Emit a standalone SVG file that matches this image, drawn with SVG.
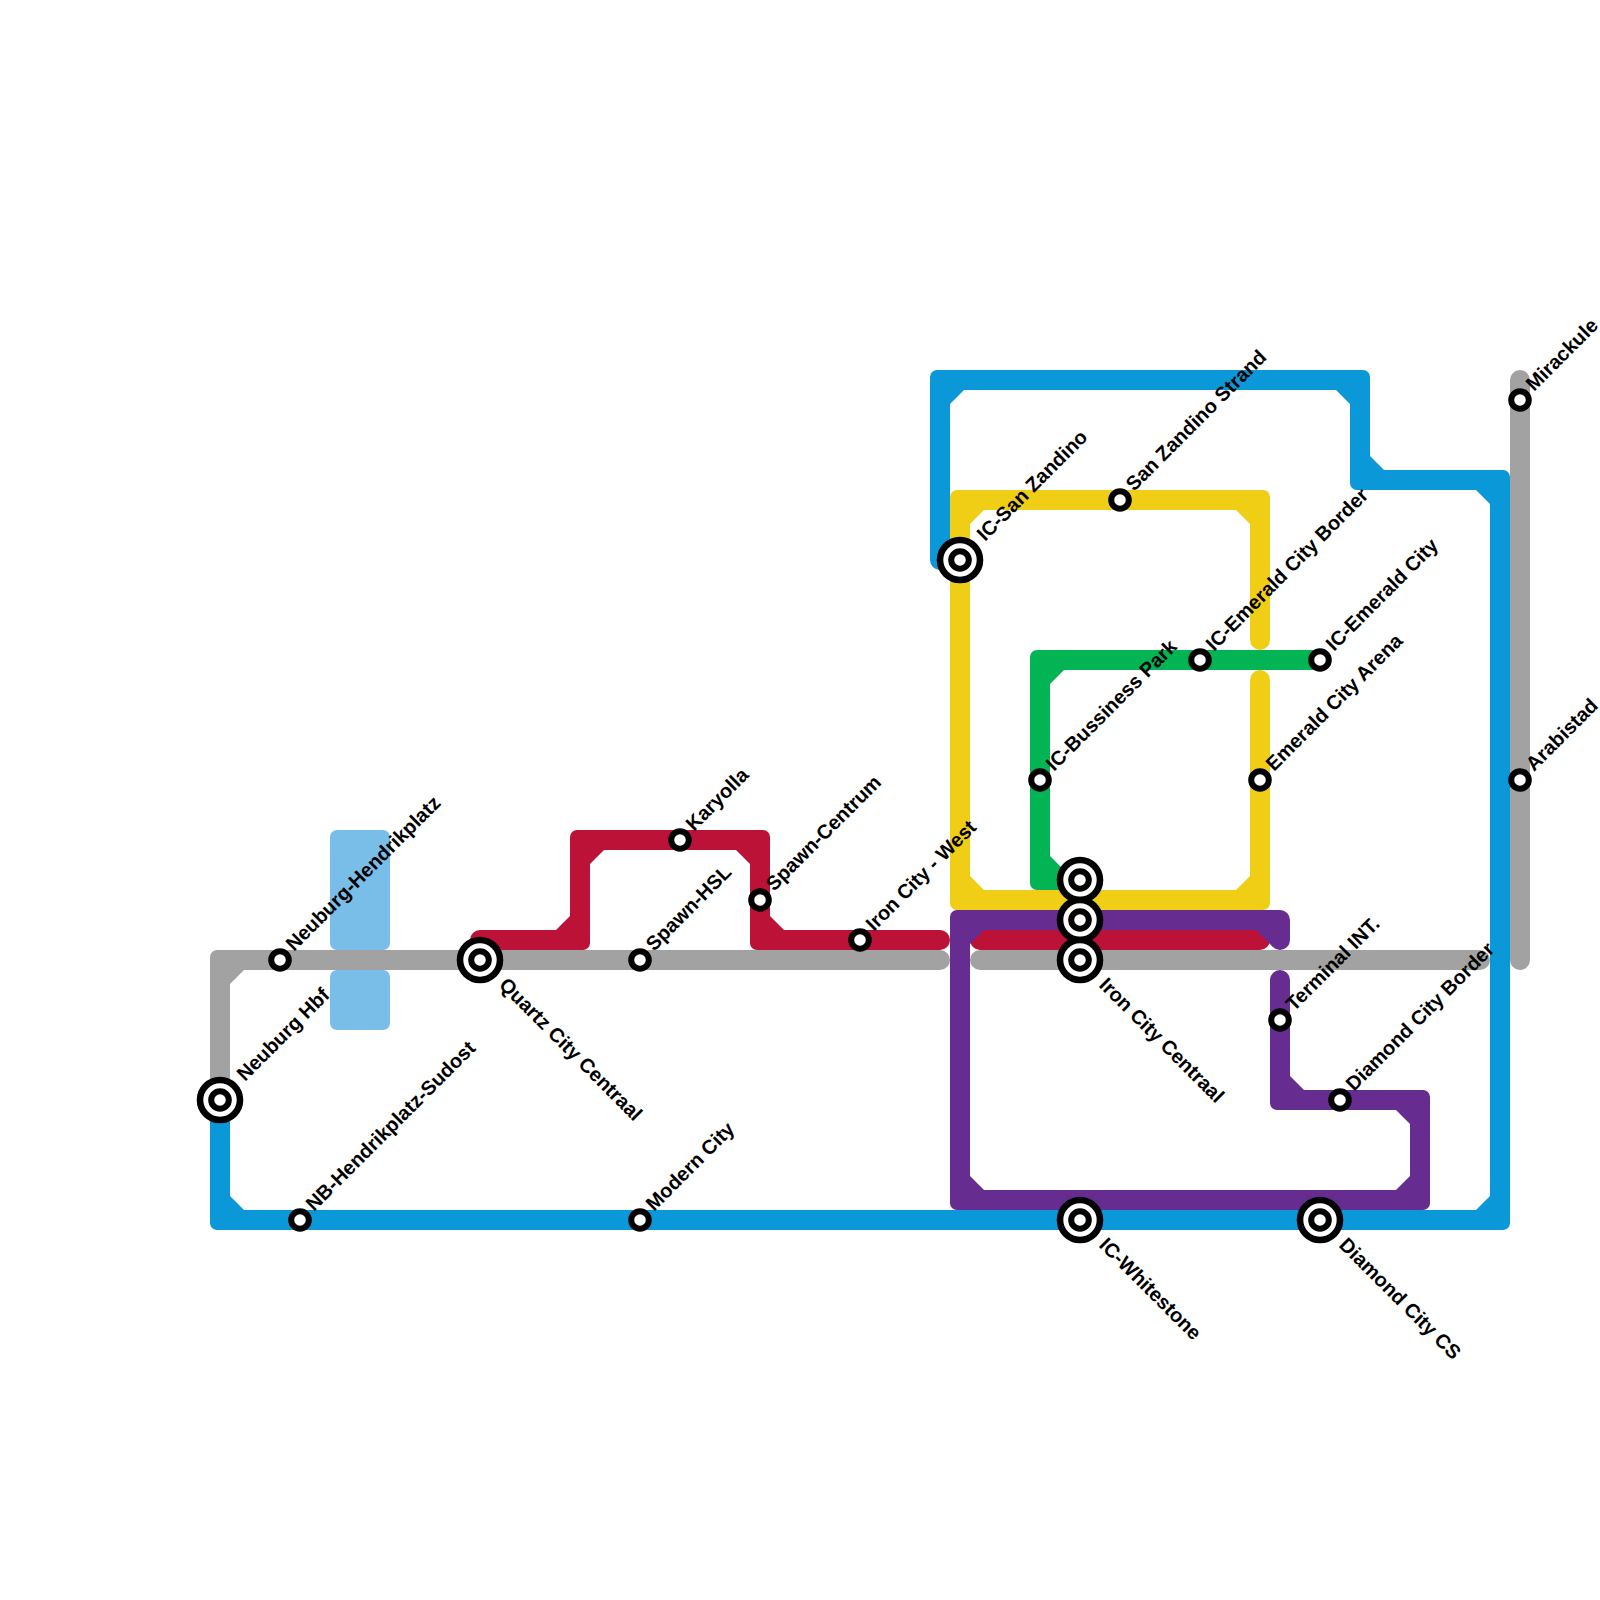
<svg xmlns="http://www.w3.org/2000/svg" width="1600" height="1600" viewBox="0 0 1600 1600">
<style>
.l{fill:none;stroke-width:20;stroke-linecap:round;stroke-linejoin:round}
.blue{stroke:#0A98D8}.blueF{fill:#0A98D8}
.grey{stroke:#A2A2A2}.greyF{fill:#A2A2A2}
.red{stroke:#BC1237}.redF{fill:#BC1237}
.yellow{stroke:#F0CE15}.yellowF{fill:#F0CE15}
.green{stroke:#03B454}.greenF{fill:#03B454}
.purple{stroke:#662C90}.purpleF{fill:#662C90}
.pond{fill:#79BDE9}
.st{fill:#fff;stroke:#000;stroke-width:6}
.big{stroke-width:6.6}
text{font-family:"Liberation Sans",Arial,sans-serif;font-size:20px;font-weight:700;fill:#000}
</style>
<defs>
<path id="ch" d="M-10,-3A7,7 0 0 1 -3,-10L24,-10L24,10L10,24L-10,24Z"/>
<g id="s"><circle class="st" r="8.8"/></g>
<g id="x"><circle class="st big" r="20"/><circle class="st" r="8.8"/></g>
</defs>
<rect width="1600" height="1600" fill="#fff"/>
<g id="water"><rect class="pond" x="330" y="830" width="60" height="120" rx="7"/><rect class="pond" x="330" y="970" width="60" height="60" rx="7"/></g>
<g id="connectors">
<g id="line-blue"><path class="l blue" d="M960,560H940V380H1360V480H1500V1220H220V1100"/>
<g class="blueF"><use href="#ch" transform="translate(940,380)"/><use href="#ch" transform="translate(1360,380) rotate(90)"/><use href="#ch" transform="translate(1360,480) rotate(-90)"/><use href="#ch" transform="translate(1500,480) rotate(90)"/><use href="#ch" transform="translate(1500,1220) rotate(180)"/><use href="#ch" transform="translate(220,1220) rotate(-90)"/></g></g>
<g id="line-grey"><path class="l grey" d="M220,1100V960H940M980,960H1480M1520,380V960"/>
<use class="greyF" href="#ch" transform="translate(220,960)"/></g>
<g id="line-red"><path class="l red" d="M480,940H580V840H760V940H940M980,940H1260"/>
<g class="redF"><use href="#ch" transform="translate(580,940) rotate(180)"/><use href="#ch" transform="translate(580,840)"/><use href="#ch" transform="translate(760,840) rotate(90)"/><use href="#ch" transform="translate(760,940) rotate(-90)"/></g></g>
<g id="line-yellow"><path class="l yellow" d="M1260,640V500H960V900H1260V680"/>
<g class="yellowF"><use href="#ch" transform="translate(960,500)"/><use href="#ch" transform="translate(1260,500) rotate(90)"/><use href="#ch" transform="translate(960,900) rotate(-90)"/><use href="#ch" transform="translate(1260,900) rotate(180)"/></g></g>
<g id="line-green"><path class="l green" d="M1080,880H1040V660H1320"/>
<g class="greenF"><use href="#ch" transform="translate(1040,660)"/><use href="#ch" transform="translate(1040,880) rotate(-90)"/></g></g>
<g id="line-purple"><path class="l purple" d="M1280,940V920H960V1200H1420V1100H1280V980"/>
<g class="purpleF"><use href="#ch" transform="translate(960,920)"/><use href="#ch" transform="translate(960,1200) rotate(-90)"/><use href="#ch" transform="translate(1420,1200) rotate(180)"/><use href="#ch" transform="translate(1420,1100) rotate(90)"/><use href="#ch" transform="translate(1280,1100) rotate(-90)"/></g>
<path class="purpleF" d="M1256,930L1273,947L1280,940V930Z"/></g>
</g>
<g id="n1"><use href="#x" x="220" y="1100"/><text transform="translate(245,1082) rotate(-45)">Neuburg Hbf</text></g>
<g id="n2"><use href="#s" x="280" y="960"/><text transform="translate(294,952) rotate(-45)">Neuburg-Hendrikplatz</text></g>
<g id="n3"><use href="#s" x="300" y="1220"/><text transform="translate(314,1212) rotate(-45)">NB-Hendrikplatz-Sudost</text></g>
<g id="n4"><use href="#x" x="480" y="960"/><text transform="translate(498,986) rotate(45)">Quartz City Centraal</text></g>
<g id="n5"><use href="#s" x="640" y="960"/><text transform="translate(654,952) rotate(-45)">Spawn-HSL</text></g>
<g id="n6"><use href="#s" x="640" y="1220"/><text transform="translate(654,1212) rotate(-45)">Modern City</text></g>
<g id="n7"><use href="#s" x="680" y="840"/><text transform="translate(694,832) rotate(-45)">Karyolla</text></g>
<g id="n8"><use href="#s" x="760" y="900"/><text transform="translate(774,892) rotate(-45)">Spawn-Centrum</text></g>
<g id="n9"><use href="#s" x="860" y="940"/><text transform="translate(874,932) rotate(-45)">Iron City - West</text></g>
<g id="n10"><use href="#x" x="960" y="560"/><text transform="translate(985,542) rotate(-45)">IC-San Zandino</text></g>
<g id="n11"><use href="#s" x="1120" y="500"/><text transform="translate(1134,492) rotate(-45)">San Zandino Strand</text></g>
<g id="n12"><use href="#s" x="1040" y="780"/><text transform="translate(1054,772) rotate(-45)">IC-Bussiness Park</text></g>
<g id="n13"><use href="#s" x="1200" y="660"/><text transform="translate(1214,652) rotate(-45)">IC-Emerald City Border</text></g>
<g id="n14"><use href="#s" x="1320" y="660"/><text transform="translate(1334,652) rotate(-45)">IC-Emerald City</text></g>
<g id="n15"><use href="#s" x="1260" y="780"/><text transform="translate(1274,772) rotate(-45)">Emerald City Arena</text></g>
<g id="n16"><use href="#x" x="1080" y="880"/></g>
<g id="n17"><use href="#x" x="1080" y="920"/></g>
<g id="n18"><use href="#x" x="1080" y="960"/><text transform="translate(1098,986) rotate(45)">Iron City Centraal</text></g>
<g id="n19"><use href="#x" x="1080" y="1220"/><text transform="translate(1098,1246) rotate(45)">IC-Whitestone</text></g>
<g id="n20"><use href="#x" x="1320" y="1220"/><text transform="translate(1338,1246) rotate(45)">Diamond City CS</text></g>
<g id="n21"><use href="#s" x="1280" y="1020"/><text transform="translate(1294,1012) rotate(-45)">Terminal INT.</text></g>
<g id="n22"><use href="#s" x="1340" y="1100"/><text transform="translate(1354,1092) rotate(-45)">Diamond City Border</text></g>
<g id="n23"><use href="#s" x="1520" y="400"/><text transform="translate(1534,392) rotate(-45)">Mirackule</text></g>
<g id="n24"><use href="#s" x="1520" y="780"/><text transform="translate(1534,772) rotate(-45)">Arabistad</text></g>
</svg>
